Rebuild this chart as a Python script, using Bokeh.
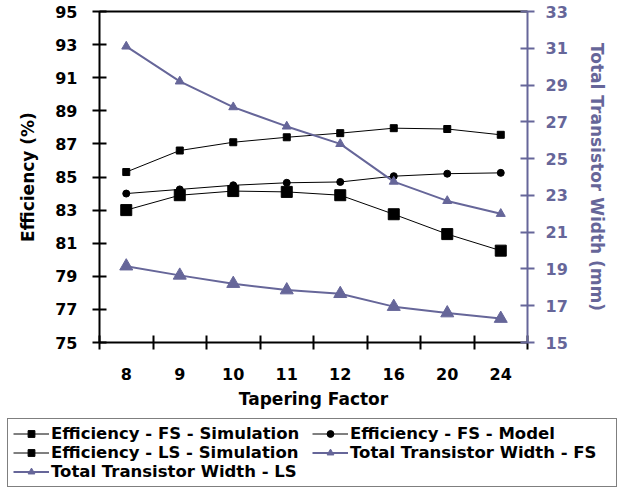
from bokeh.plotting import figure
from bokeh.models import Range1d, LinearAxis, FixedTicker, Legend, LegendItem
from bokeh.layouts import column
from bokeh.embed import file_html
from bokeh.resources import INLINE

categories = ["8", "9", "10", "11", "12", "16", "20", "24"]
eff_fs_sim = [83.0, 83.9, 84.15, 84.1, 83.9, 82.75, 81.55, 80.55]
eff_fs_model = [84.0, 84.25, 84.5, 84.65, 84.7, 85.05, 85.2, 85.25]
eff_ls_sim = [85.3, 86.6, 87.1, 87.4, 87.65, 87.95, 87.9, 87.55]
width_fs = [19.15, 18.65, 18.2, 17.85, 17.65, 16.95, 16.6, 16.3]
width_ls = [31.1, 29.2, 27.8, 26.75, 25.8, 23.75, 22.7, 22.0]
left_ticks = list(range(75, 96, 2))
right_ticks = list(range(15, 34, 2))
series_labels = ["Efficiency - FS - Simulation", "Efficiency - FS - Model",
                 "Efficiency - LS - Simulation", "Total Transistor Width - FS",
                 "Total Transistor Width - LS"]

PURPLE = "#666699"
FONT = "DejaVu Sans"
TICK_SIZE = "16px"
TITLE_SIZE = "17px"

x = [i + 0.5 for i in range(len(categories))]
bounds = list(range(len(categories) + 1))

p = figure(width=621, height=415, x_range=Range1d(0, len(categories)),
           y_range=Range1d(75, 95), output_backend="svg", toolbar_location=None,
           min_border_left=99, min_border_right=94, min_border_top=11,
           min_border_bottom=73)
p.extra_y_ranges = {"w": Range1d(15, 33)}
p.outline_line_color = None
p.xgrid.visible = False
p.ygrid.visible = False


def style_labels(ax, color, standoff, title_standoff):
    ax.major_label_standoff = standoff
    ax.major_label_text_font = FONT
    ax.major_label_text_font_style = "bold"
    ax.major_label_text_font_size = TICK_SIZE
    ax.major_label_text_color = color
    ax.axis_label_text_font = FONT
    ax.axis_label_text_font_style = "bold"
    ax.axis_label_text_font_size = TITLE_SIZE
    ax.axis_label_text_color = color
    ax.axis_label_standoff = title_standoff


# x axis: labels at category centres, cross ticks at category boundaries
xa = p.xaxis[0]
xa.ticker = FixedTicker(ticks=x, minor_ticks=bounds)
xa.major_label_overrides = {xi: c for xi, c in zip(x, categories)}
xa.major_tick_in = 0
xa.major_tick_out = 0
xa.minor_tick_in = 7
xa.minor_tick_out = 7
xa.minor_tick_line_width = 2
xa.minor_tick_line_color = "black"
xa.axis_line_width = 2
xa.axis_line_color = "black"
xa.axis_label = "Tapering Factor"
style_labels(xa, "black", 18, 6)

# left axis
ya = p.yaxis[0]
ya.ticker = FixedTicker(ticks=left_ticks, minor_ticks=[])
ya.major_tick_in = 7
ya.major_tick_out = 7
ya.major_tick_line_width = 2
ya.major_tick_line_color = "black"
ya.axis_line_width = 2
ya.axis_line_color = "black"
ya.axis_label = "Efficiency (%)"
style_labels(ya, "black", 15, 14)

# right axis
ra = LinearAxis(y_range_name="w", ticker=FixedTicker(ticks=right_ticks, minor_ticks=[]))
ra.major_tick_in = 7
ra.major_tick_out = 7
ra.major_tick_line_width = 2
ra.major_tick_line_color = PURPLE
ra.axis_line_width = 2
ra.axis_line_color = PURPLE
ra.axis_label = "Total Transistor Width (mm)"
style_labels(ra, PURPLE, 11, 16)
p.add_layout(ra, "right")

# top border line
ta = LinearAxis(ticker=FixedTicker(ticks=[]), axis_line_width=2, axis_line_color="black",
                major_tick_line_color=None, minor_tick_line_color=None,
                major_label_text_font_size="0px")
p.add_layout(ta, "above")

# series
p.line(x, eff_fs_sim, line_color="black", line_width=1)
p.scatter(x, eff_fs_sim, marker="square", size=11, color="black")
p.line(x, eff_fs_model, line_color="black", line_width=1)
p.scatter(x, eff_fs_model, marker="circle", size=7, color="black")
p.line(x, eff_ls_sim, line_color="black", line_width=1)
p.scatter(x, eff_ls_sim, marker="square", size=7, color="black")
p.line(x, width_fs, line_color=PURPLE, line_width=2, y_range_name="w")
p.scatter(x, width_fs, marker="triangle", size=13, color=PURPLE, y_range_name="w")
p.line(x, width_ls, line_color=PURPLE, line_width=2, y_range_name="w")
p.scatter(x, width_ls, marker="triangle", size=9, color=PURPLE, y_range_name="w")

# legend panel below the chart (hidden proxy renderers carry the styles)
q = figure(width=621, height=76, x_range=Range1d(0, 1), y_range=Range1d(0, 1),
           output_backend="svg", toolbar_location=None,
           x_axis_location=None, y_axis_location=None,
           min_border_left=0, min_border_right=0, min_border_top=0, min_border_bottom=0)
q.outline_line_color = None
q.xgrid.visible = False
q.ygrid.visible = False
for fig in (p, q):
    if "frame_align" in fig.properties():
        fig.frame_align = False

series_data = [eff_fs_sim, eff_fs_model, eff_ls_sim, width_fs, width_ls]
styles = [("black", 1, "square"), ("black", 1, "circle"), ("black", 1, "square"),
          (PURPLE, 2, "triangle"), (PURPLE, 2, "triangle")]
items = []
for lab, ys, (col, lw, mk) in zip(series_labels, series_data, styles):
    ln = q.line(x, ys, line_color=col, line_width=lw, visible=False)
    sc = q.scatter(x, ys, marker=mk, color=col, visible=False)
    items.append(LegendItem(label=lab, renderers=[ln, sc]))

legend = Legend(items=items, orientation="horizontal", ncols=2, location=(7, 4),
                border_line_color="black", border_line_width=1,
                label_text_font=FONT, label_text_font_style="bold",
                label_text_font_size="16.5px", label_text_color="black",
                glyph_width=36, glyph_height=17, label_height=17, label_width=261,
                label_standoff=2, spacing=0, padding=5, margin=0,
                inactive_fill_alpha=0.0, click_policy="none")
q.add_layout(legend, "center")

open("out.html", "w").write(file_html(column(p, q, spacing=0), INLINE))
